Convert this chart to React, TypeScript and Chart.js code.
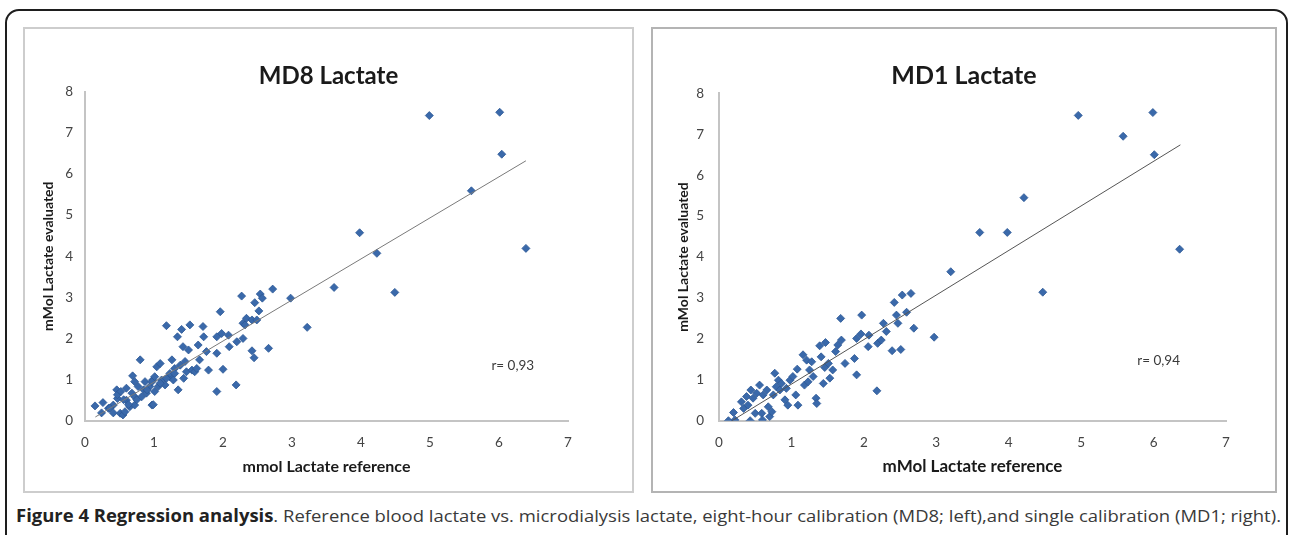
import React, { useEffect, useRef } from 'react';
import { Chart, registerables } from 'chart.js';

Chart.register(...registerables);

// ---------- data ----------
const X_MIN = 0;
const X_MAX = 7;
const Y_MIN = 0;
const Y_MAX = 8;

const MD8_TITLE = 'MD8 Lactate';
const MD8_X_TITLE = 'mmol Lactate reference';
const MD8_Y_TITLE = 'mMol Lactate evaluated';
const MD8_R_TEXT = 'r= 0,93';

const MD8_X = [
  0.145, 0.24, 0.26, 0.34, 0.41, 0.46, 0.47, 0.51, 0.55, 0.58, 0.60, 0.65, 0.68, 0.69, 0.72, 0.72,
  0.77, 0.80, 0.82, 0.85, 0.87, 0.89, 0.94, 0.97, 0.98, 1.01, 1.04, 1.06, 1.09, 1.11, 1.16, 1.18,
  1.23, 1.26, 1.28, 1.30, 1.34, 1.35, 1.38, 1.40, 1.42, 1.43, 1.45, 1.47, 1.50, 1.52, 1.55, 1.59,
  1.62, 1.64, 1.66, 1.71, 1.72, 1.76, 1.79, 1.91, 1.91, 1.91, 1.96, 1.98, 2.00, 2.08, 2.09, 2.19,
  2.20, 2.27, 2.29, 2.29, 2.32, 2.34, 2.42, 2.42, 2.45, 2.46, 2.49, 2.52, 2.54, 2.57, 2.66, 2.72,
  2.98, 3.22, 3.61,
  0.47, 0.52, 0.60, 0.72, 0.56, 0.63, 0.75, 0.90, 0.97, 1.01, 0.36, 0.41, 0.99, 1.09, 1.18, 1.23, 1.30,
  3.98, 4.23, 4.49, 4.99, 5.60, 6.01, 6.04, 6.39,
];
const MD8_Y = [
  0.36, 0.19, 0.44, 0.30, 0.38, 0.75, 0.54, 0.18, 0.14, 0.22, 0.50, 0.34, 0.67, 1.09, 0.58, 0.38,
  0.83, 1.48, 0.58, 0.75, 0.95, 0.67, 0.83, 0.38, 0.99, 0.71, 1.31, 0.83, 1.39, 0.99, 0.87, 2.31,
  1.07, 1.48, 0.99, 1.27, 2.04, 0.75, 1.35, 2.22, 1.80, 1.03, 1.44, 1.19, 1.72, 2.33, 1.23, 1.19,
  1.27, 1.84, 1.48, 2.29, 2.04, 1.68, 1.23, 1.64, 0.71, 2.04, 2.65, 2.12, 1.25, 2.08, 1.80, 0.87,
  1.92, 3.03, 2.00, 2.37, 2.33, 2.49, 2.45, 1.70, 1.53, 2.87, 2.45, 2.67, 3.08, 2.98, 1.76, 3.20,
  2.98, 2.27, 3.24,
  0.63, 0.71, 0.79, 0.95, 0.51, 0.39, 0.51, 0.75, 0.95, 1.07, 0.31, 0.19, 0.39, 0.91, 1.03, 1.15, 1.15,
  4.57, 4.07, 3.12, 7.42, 5.59, 7.50, 6.48, 4.19,
];
const MD8_TREND_X = [0.15, 6.39];
const MD8_TREND_Y = [0.09, 6.32];
const MD8_R_POS = [6.2, 1.33];

const MD1_TITLE = 'MD1 Lactate';
const MD1_X_TITLE = 'mMol Lactate reference';
const MD1_Y_TITLE = 'mMol Lactate evaluated';
const MD1_R_TEXT = 'r= 0,94';

const MD1_X = [
  0.13, 0.20, 0.22, 0.31, 0.34, 0.38, 0.40, 0.43, 0.44, 0.47, 0.50, 0.52, 0.56, 0.59, 0.60, 0.61,
  0.66, 0.68, 0.70, 0.73, 0.75, 0.77, 0.79, 0.82, 0.84, 0.86, 0.91, 0.93, 0.95, 0.98, 1.02, 1.06,
  1.08, 1.09, 1.16, 1.18, 1.21, 1.23, 1.25, 1.28, 1.30, 1.34, 1.35, 1.39, 1.41, 1.44, 1.46, 1.47,
  1.51, 1.53, 1.57, 1.61, 1.64, 1.68, 1.69, 1.74, 1.87, 1.90, 1.90, 1.97, 1.96, 2.06, 2.07, 2.18,
  2.19, 2.24, 2.27, 2.31, 2.39, 2.42, 2.45, 2.47, 2.51, 2.53, 2.59, 2.65, 2.69, 2.97,
  3.20, 3.60, 3.98, 4.21, 4.47, 4.96, 5.58, 5.99, 6.01, 6.36,
];
const MD1_Y = [
  0.00, 0.20, 0.02, 0.46, 0.30, 0.59, 0.38, 0.00, 0.75, 0.55, 0.18, 0.67, 0.87, 0.18, 0.02, 0.63,
  0.75, 0.34, 0.10, 0.22, 0.63, 1.16, 0.83, 0.99, 0.75, 0.91, 0.51, 0.79, 0.38, 0.99, 1.08, 0.63,
  1.26, 0.38, 1.61, 0.87, 1.48, 0.95, 1.24, 1.44, 1.08, 0.55, 0.42, 1.83, 1.56, 0.91, 1.30, 1.91,
  1.40, 1.04, 1.24, 1.69, 1.85, 2.50, 1.97, 1.40, 1.52, 2.01, 1.12, 2.58, 2.12, 1.81, 2.09, 0.73,
  1.89, 1.97, 2.38, 2.18, 1.71, 2.89, 2.58, 2.38, 1.74, 3.07, 2.65, 3.11, 2.26, 2.04,
  3.64, 4.60, 4.60, 5.45, 3.14, 7.46, 6.95, 7.53, 6.50, 4.19,
];
const MD1_TREND_X = [0.18, 6.37];
const MD1_TREND_Y = [0.0, 6.74];
const MD1_R_POS = [6.07, 1.47];

const CAPTION_BOLD = 'Figure 4 Regression analysis';
const CAPTION_REST =
  '. Reference blood lactate vs. microdialysis lactate, eight-hour calibration (MD8; left),and single calibration (MD1; right).';

// ---------- chart ----------
const FONT = 'Lato, "Open Sans", sans-serif';

const panelText = {
  id: 'panelText',
  afterDraw(chart: any, _args: any, opts: any) {
    const ctx = chart.ctx;
    ctx.save();
    ctx.textAlign = 'center';
    ctx.textBaseline = 'middle';
    ctx.fillStyle = '#1a1a1a';
    ctx.font = `bold ${opts.titleSize}px ${FONT}`;
    ctx.fillText(opts.title, chart.width / 2, opts.titleY);
    ctx.fillStyle = '#3a3a3a';
    ctx.font = `${opts.rSize}px ${FONT}`;
    ctx.fillText(
      opts.rText,
      chart.scales.x.getPixelForValue(opts.rPos[0]),
      chart.scales.y.getPixelForValue(opts.rPos[1])
    );
    ctx.restore();
  },
};

type PanelProps = {
  left: number;
  top: number;
  width: number;
  height: number;
  xs: number[];
  ys: number[];
  trendX: number[];
  trendY: number[];
  title: string;
  xTitle: string;
  yTitle: string;
  rText: string;
  rPos: number[];
  padRight: number;
  padTop: number;
  yWidth: number;
  xHeight: number;
  yTickPad: number;
  xTickPad: number;
  yTitlePad: number;
  xTitlePad: number;
  titleSize: number;
  titleY: number;
  xTitleSize: number;
  yTitleSize: number;
  lineColor: string;
};

function ScatterPanel(p: PanelProps) {
  const ref = useRef<HTMLCanvasElement | null>(null);
  useEffect(() => {
    if (!ref.current) return;
    const tickFont = { family: FONT, size: 13.5 };
    const chart = new Chart(ref.current, {
      type: 'scatter',
      data: {
        datasets: [
          {
            data: p.trendX.map((x, i) => ({ x, y: p.trendY[i] })),
            showLine: true,
            borderColor: p.lineColor,
            borderWidth: 1,
            pointRadius: 0,
            fill: false,
          },
          {
            data: p.xs.map((x, i) => ({ x, y: p.ys[i] })),
            pointStyle: 'rectRot',
            pointRadius: 4,
            backgroundColor: '#3a69aa',
            borderColor: '#2c5896',
            borderWidth: 0.8,
          },
        ],
      },
      options: {
        responsive: false,
        animation: false,
        events: [],
        layout: { padding: { left: 0, right: p.padRight, top: p.padTop, bottom: 0 } },
        plugins: {
          legend: { display: false },
          tooltip: { enabled: false },
          title: { display: false },
          panelText: {
            title: p.title,
            titleSize: p.titleSize,
            titleY: p.titleY,
            rText: p.rText,
            rPos: p.rPos,
            rSize: 13.5,
          },
        } as any,
        scales: {
          x: {
            type: 'linear',
            position: 'bottom',
            min: X_MIN,
            max: X_MAX,
            ticks: { stepSize: 1, font: tickFont, color: '#444', padding: p.xTickPad },
            grid: { display: false, drawTicks: false },
            border: { display: true, color: '#c4c4c4', width: 2 },
            title: {
              display: true,
              text: p.xTitle,
              color: '#1a1a1a',
              font: { family: FONT, size: p.xTitleSize, weight: 'bold' },
              padding: { top: 0, bottom: p.xTitlePad },
            },
            afterFit: (s: any) => {
              s.height = p.xHeight;
            },
          },
          y: {
            type: 'linear',
            min: Y_MIN,
            max: Y_MAX,
            ticks: { stepSize: 1, font: tickFont, color: '#444', padding: p.yTickPad },
            grid: { display: false, drawTicks: false },
            border: { display: true, color: '#c4c4c4', width: 2 },
            title: {
              display: true,
              text: p.yTitle,
              color: '#1a1a1a',
              font: { family: FONT, size: p.yTitleSize, weight: 'bold' },
              padding: { top: p.yTitlePad, bottom: 0 },
            },
            afterFit: (s: any) => {
              s.width = p.yWidth;
            },
          },
        },
      } as any,
      plugins: [panelText],
    });
    return () => chart.destroy();
  }, []);
  return (
    <canvas
      ref={ref}
      width={p.width}
      height={p.height}
      style={{ position: 'absolute', left: p.left, top: p.top, width: p.width, height: p.height }}
    />
  );
}

export default function App() {
  return (
    <div
      style={{
        position: 'absolute',
        left: 0,
        top: 0,
        width: 1290,
        height: 535,
        overflow: 'hidden',
        background: '#fff',
      }}
    >
      <div
        style={{
          position: 'absolute',
          left: 5,
          top: 9,
          width: 1283,
          height: 580,
          border: '2px solid #1e1e1e',
          borderRadius: 14,
          boxSizing: 'border-box',
        }}
      />
      <div
        style={{
          position: 'absolute',
          left: 23,
          top: 27,
          width: 611,
          height: 466,
          border: '2px solid #cdcdcd',
          boxSizing: 'border-box',
        }}
      />
      <div
        style={{
          position: 'absolute',
          left: 651,
          top: 27,
          width: 626,
          height: 466,
          border: '2px solid #b4b4b4',
          boxSizing: 'border-box',
        }}
      />
      <ScatterPanel
        left={25}
        top={29}
        width={607}
        height={462}
        xs={MD8_X}
        ys={MD8_Y}
        trendX={MD8_TREND_X}
        trendY={MD8_TREND_Y}
        title={MD8_TITLE}
        xTitle={MD8_X_TITLE}
        yTitle={MD8_Y_TITLE}
        rText={MD8_R_TEXT}
        rPos={MD8_R_POS}
        padRight={64}
        padTop={62.7}
        yWidth={60}
        xHeight={70.3}
        yTickPad={12}
        xTickPad={14}
        yTitlePad={15}
        xTitlePad={14.7}
        titleSize={24}
        titleY={47}
        xTitleSize={16}
        yTitleSize={14}
        lineColor="#7a7a7a"
      />
      <ScatterPanel
        left={653}
        top={29}
        width={622}
        height={462}
        xs={MD1_X}
        ys={MD1_Y}
        trendX={MD1_TREND_X}
        trendY={MD1_TREND_Y}
        title={MD1_TITLE}
        xTitle={MD1_X_TITLE}
        yTitle={MD1_Y_TITLE}
        rText={MD1_R_TEXT}
        rPos={MD1_R_POS}
        padRight={49}
        padTop={64.3}
        yWidth={66}
        xHeight={70.3}
        yTickPad={15}
        xTickPad={14}
        yTitlePad={22}
        xTitlePad={14}
        titleSize={25}
        titleY={47}
        xTitleSize={17}
        yTitleSize={14}
        lineColor="#555"
      />
      <svg
        width={1290}
        height={35}
        style={{ position: 'absolute', left: 0, top: 500 }}
      >
        <text
          x={16}
          y={22}
          textLength={1265}
          lengthAdjust="spacingAndGlyphs"
          fontFamily='"Open Sans", sans-serif'
          fontSize={17}
          fill="#3a3a3a"
        >
          <tspan fontWeight={700} fill="#222">
            {CAPTION_BOLD}
          </tspan>
          <tspan>{CAPTION_REST}</tspan>
        </text>
      </svg>
    </div>
  );
}
